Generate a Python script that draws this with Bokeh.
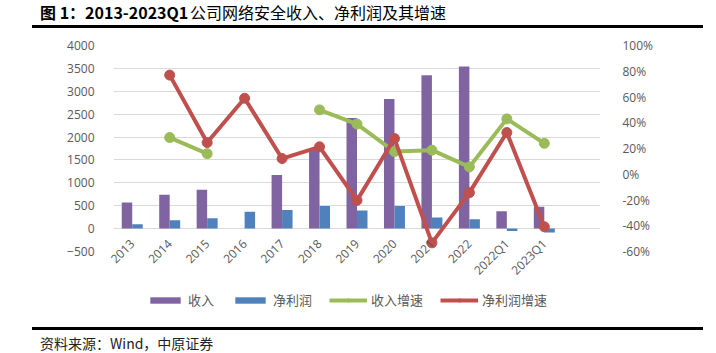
import math
from bokeh.plotting import figure
from bokeh.layouts import column
from bokeh.models import (ColumnDataSource, FactorRange, Range1d, LinearAxis, FixedTicker,
                          Legend, LegendItem, Div, PrintfTickFormatter, BasicTickFormatter)
from bokeh.transform import dodge
from bokeh.embed import file_html
from bokeh.resources import INLINE

nan = float("nan")

# ---- data ----
categories = ["2013", "2014", "2015", "2016", "2017", "2018", "2019", "2020",
              "2021", "2022", "2022Q1", "2023Q1"]
revenue = [570, 740, 850, nan, 1170, 1745, 2415, 2830, 3350, 3540, 380, 475]
net_profit = [95, 183, 228, 368, 405, 496, 393, 496, 240, 203, -50, -85]
revenue_growth = [nan, 28.5, 16.0, nan, nan, 50.0, 39.0, 17.6, 18.7, 5.7, 43.0, 24.0]
profit_growth = [nan, 77.0, 24.6, 59.0, 12.2, 21.3, -20.3, 27.7, -53.3, -14.3, 32.4, -40.8]
left_ticks = [-500, 0, 500, 1000, 1500, 2000, 2500, 3000, 3500, 4000]
right_ticks = [-60, -40, -20, 0, 20, 40, 60, 80, 100]
series_names = ["收入", "净利润", "收入增速", "净利润增速"]
title_bold = "图 1：2013-2023Q1"
title_rest = "公司网络安全收入、净利润及其增速"
source_text = "资料来源：Wind，中原证券"

PURPLE = "#8064A2"
BLUE = "#4F81BD"
GREEN = "#9BBB59"
RED = "#C0504D"
GRAY = "#595959"
TICK_FONT = "Open Sans"
CJK_FONT = "Noto Sans CJK SC"

src = ColumnDataSource(dict(cat=categories, rev=revenue, np_=net_profit,
                            rg=revenue_growth, pg=profit_growth))

x_factors = categories + [" "]
p = figure(width=716, height=258, x_range=FactorRange(*x_factors),
           y_range=Range1d(-500, 4000), output_backend="svg", toolbar_location=None,
           min_border_left=113, min_border_right=116, min_border_top=15,
           min_border_bottom=37)
p.extra_y_ranges = {"pct": Range1d(-60, 100)}
p.outline_line_color = None
p.background_fill_color = "white"
p.border_fill_color = "white"

# bars
p.vbar(x=dodge("cat", -0.14, range=p.x_range), top="rev", width=0.28,
       source=src, fill_color=PURPLE, line_color=None)
p.vbar(x=dodge("cat", 0.14, range=p.x_range), top="np_", width=0.28,
       source=src, fill_color=BLUE, line_color=None)

# growth lines
p.line(x="cat", y="rg", source=src, y_range_name="pct", line_color=GREEN, line_width=4)
p.scatter(x="cat", y="rg", source=src, y_range_name="pct", size=10,
          fill_color=GREEN, line_color=GREEN)
p.line(x="cat", y="pg", source=src, y_range_name="pct", line_color=RED, line_width=4)
p.scatter(x="cat", y="pg", source=src, y_range_name="pct", size=10,
          fill_color=RED, line_color=RED)

# axes
yl = p.yaxis[0]
yl.ticker = FixedTicker(ticks=left_ticks)
yl.formatter = BasicTickFormatter(use_scientific=False)
yl.axis_line_color = None
yl.major_tick_line_color = None
yl.minor_tick_line_color = None
yl.major_label_standoff = 13
yl.major_label_text_font = TICK_FONT
yl.major_label_text_font_size = "12px"
yl.major_label_text_color = GRAY

yr = LinearAxis(y_range_name="pct", ticker=FixedTicker(ticks=right_ticks),
                formatter=PrintfTickFormatter(format="%d%%"))
yr.axis_line_color = None
yr.major_tick_line_color = None
yr.minor_tick_line_color = None
yr.major_label_standoff = 16
yr.major_label_text_font = TICK_FONT
yr.major_label_text_font_size = "12px"
yr.major_label_text_color = GRAY
p.add_layout(yr, "right")

xa = p.xaxis[0]
xa.axis_line_color = None
xa.major_tick_line_color = None
xa.minor_tick_line_color = None
xa.major_label_orientation = math.pi / 4
xa.major_label_standoff = -16
xa.major_label_text_font = TICK_FONT
xa.major_label_text_font_size = "12px"
xa.major_label_text_color = GRAY

p.xgrid.grid_line_color = None
p.ygrid.grid_line_color = "#D9D9D9"
p.ygrid.grid_line_width = 1

# legend strip: legend proxies styled like the chart's series, kept off-range
lg = figure(width=716, height=30, x_range=Range1d(0, 1), y_range=Range1d(0, 1),
            x_axis_type=None, y_axis_type=None, output_backend="svg",
            toolbar_location=None, min_border=0)
lg.outline_line_color = None
lg.xgrid.visible = False
lg.ygrid.visible = False
proxy = ColumnDataSource(dict(x=[-5.0], y=[-5.0]))
l_rev = lg.vbar(x="x", top="y", width=0.1, source=proxy, fill_color=PURPLE, line_color=None)
l_np = lg.vbar(x="x", top="y", width=0.1, source=proxy, fill_color=BLUE, line_color=None)
l_gl = lg.line(x="x", y="y", source=proxy, line_color=GREEN, line_width=4)
l_gs = lg.scatter(x="x", y="y", source=proxy, size=10, fill_color=GREEN, line_color=GREEN)
l_pl = lg.line(x="x", y="y", source=proxy, line_color=RED, line_width=4)
l_ps = lg.scatter(x="x", y="y", source=proxy, size=10, fill_color=RED, line_color=RED)

legend = Legend(items=[
    LegendItem(label=series_names[0], renderers=[l_rev]),
    LegendItem(label=series_names[1], renderers=[l_np]),
    LegendItem(label=series_names[2], renderers=[l_gl, l_gs]),
    LegendItem(label=series_names[3], renderers=[l_pl, l_ps]),
], orientation="horizontal", location=(33, 9))
legend.border_line_color = None
legend.background_fill_alpha = 0
legend.padding = 0
legend.margin = 0
legend.spacing = 17
legend.label_standoff = 4
legend.glyph_width = 38
legend.glyph_height = 8
legend.label_text_font = CJK_FONT
legend.label_text_font_size = "13px"
legend.label_text_color = GRAY
lg.add_layout(legend)

title_div = Div(width=716, height=30, margin=0, text=(
    '<div style="position:relative;width:716px;height:30px;">'
    f'<span style="position:absolute;left:40px;top:2px;white-space:nowrap;'
    f'font-family:\'{CJK_FONT}\';font-size:16px;line-height:20px;font-weight:bold;color:#000;">{title_bold}</span>'
    f'<span style="position:absolute;left:190px;top:2px;white-space:nowrap;'
    f'font-family:\'{CJK_FONT}\';font-size:16px;line-height:20px;color:#000;">{title_rest}</span>'
    '<div style="position:absolute;left:32px;top:25px;width:671px;height:2.5px;background:#000;"></div>'
    '</div>'))

source_div = Div(width=716, height=35, margin=0, text=(
    '<div style="position:relative;width:716px;height:35px;">'
    '<div style="position:absolute;left:32px;top:9px;width:671px;height:2.5px;background:#000;"></div>'
    f'<span style="position:absolute;left:40px;top:16px;white-space:nowrap;'
    f'font-family:\'{CJK_FONT}\';font-size:14px;line-height:18px;color:#222;">{source_text}</span>'
    '</div>'))

layout = column(title_div, p, lg, source_div, spacing=0)
open("out.html", "w").write(file_html(layout, INLINE))
